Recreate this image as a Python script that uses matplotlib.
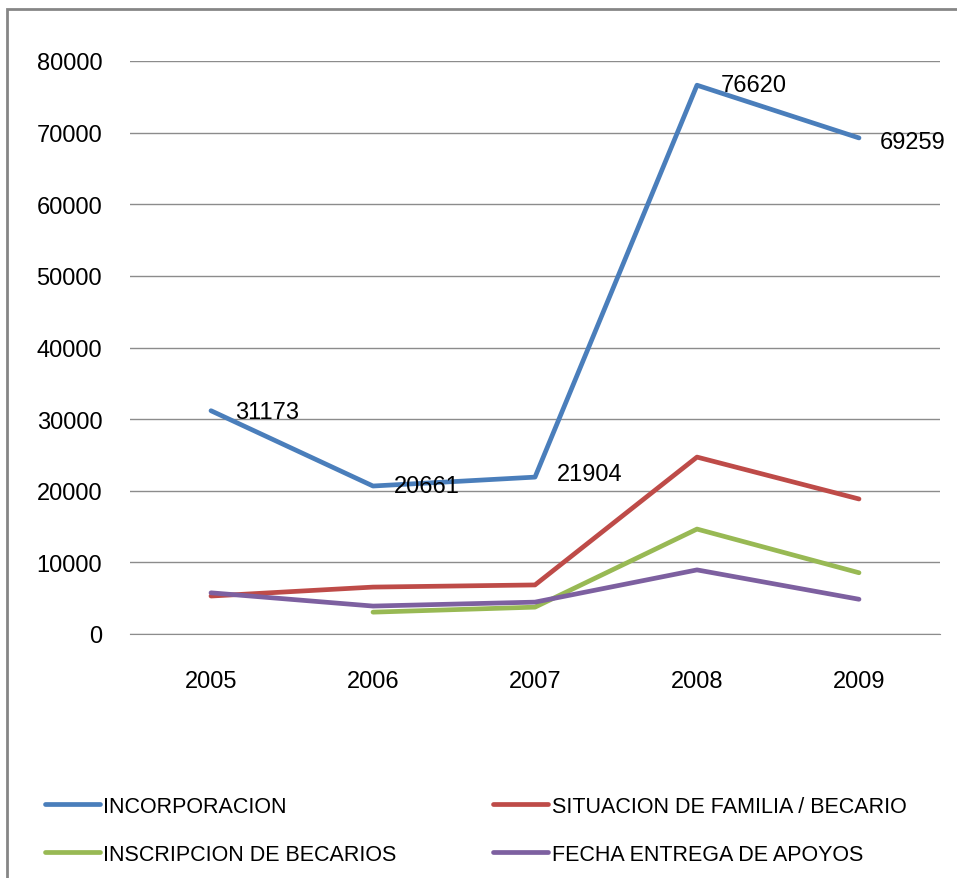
import matplotlib
matplotlib.use('Agg')
import matplotlib.pyplot as plt
from matplotlib.patches import Rectangle

plt.rcParams['font.family'] = ['Liberation Sans', 'DejaVu Sans']

# --------------------------------------------------
# Data
# --------------------------------------------------
years = ['2005', '2006', '2007', '2008', '2009']
incorporacion = [31173, 20661, 21904, 76620, 69259]
situacion = [5300, 6550, 6850, 24700, 18850]
inscripcion = [None, 3050, 3750, 14650, 8550]
fecha_entrega = [5750, 3900, 4450, 8950, 4850]
series_names = ['INCORPORACION', 'SITUACION DE FAMILIA / BECARIO',
                'INSCRIPCION DE BECARIOS', 'FECHA ENTREGA DE APOYOS']
y_ticks = [0, 10000, 20000, 30000, 40000, 50000, 60000, 70000, 80000]

colors = ['#4a7ebb', '#be4b48', '#98b954', '#7d60a0']

fig = plt.figure(figsize=(9.57, 8.79), dpi=100)
ax = fig.add_axes([130/957, 244/879, 810/957, 573/879])

x = list(range(len(years)))
all_series = [incorporacion, situacion, inscripcion, fecha_entrega]
lines = []
for vals, name, c in zip(all_series, series_names, colors):
    xs = [i for i, v in zip(x, vals) if v is not None]
    ys = [v for v in vals if v is not None]
    ln, = ax.plot(xs, ys, color=c, linewidth=3.4, solid_capstyle='round',
                  solid_joinstyle='round', label=name)
    lines.append(ln)

# data labels for the first series (offsets in points)
offsets = [(17, -1), (15, 0), (16, 2), (17, 0), (15, -3)]
for i, v in enumerate(incorporacion):
    ax.annotate(str(v), (x[i], v), xytext=offsets[i], textcoords='offset points',
                fontsize=17, va='center', ha='left', color='black')

ax.set_xlim(-0.5, len(years) - 0.5)
ax.set_ylim(0, 80000)
ax.set_yticks(y_ticks)
ax.set_yticklabels([str(t) for t in y_ticks])
ax.set_xticks(x)
ax.set_xticklabels(years)
ax.tick_params(axis='both', length=0, labelsize=17, colors='black')
ax.tick_params(axis='y', pad=20)
ax.tick_params(axis='x', pad=26)
ax.grid(axis='y', color='#8c8c8c', linewidth=1)
ax.set_axisbelow(True)
for s in ['top', 'right', 'left']:
    ax.spines[s].set_visible(False)
ax.spines['bottom'].set_color('#8c8c8c')

# legend filled row by row like the reference
order = [0, 2, 1, 3]
fig.legend(handles=[lines[i] for i in order], loc='upper left',
           bbox_to_anchor=(45/957, 1 - 797/879), ncol=2, frameon=False,
           fontsize=15.5, handlelength=2.55, handletextpad=0.15,
           columnspacing=4.5, labelspacing=1.25, borderpad=0, borderaxespad=0)

# chart border (partially cropped in the reference)
fig.patches.append(Rectangle((7/957, -0.1), 1.2, 1 - 10/879 + 0.1,
                             transform=fig.transFigure, fill=False,
                             edgecolor='#868686', linewidth=2, clip_on=False))

fig.savefig('out.png', dpi=100)
